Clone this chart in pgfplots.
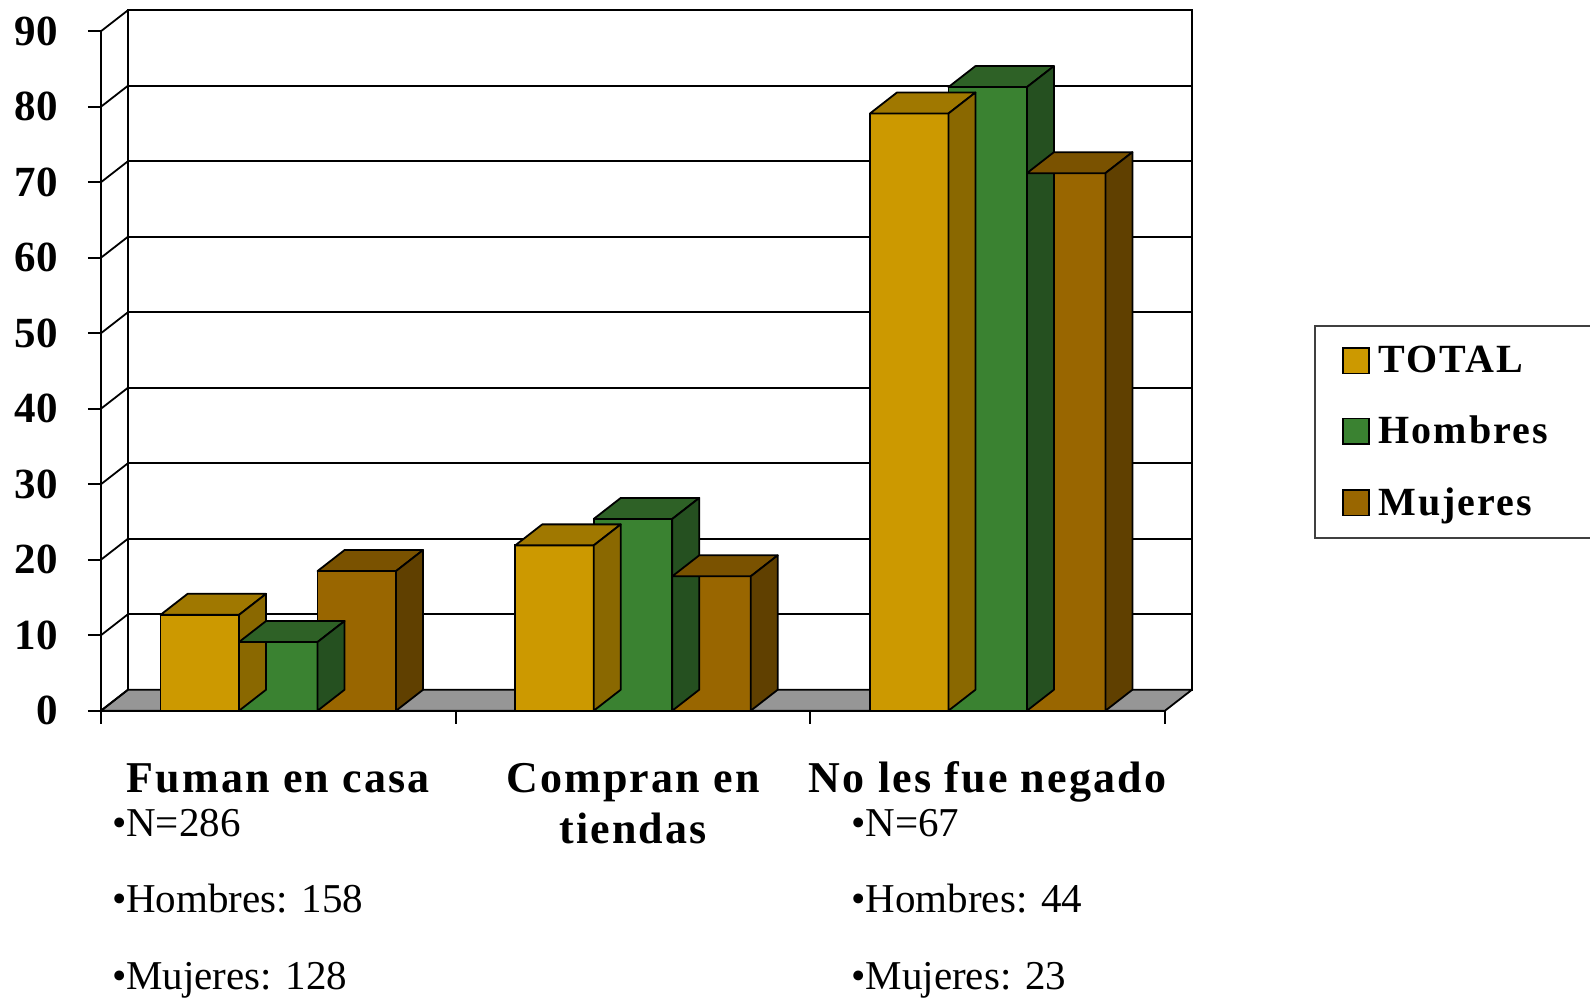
\documentclass[border=0pt]{standalone}
\usepackage{fontspec}
\setmainfont{Liberation Serif}
\newfontfamily\spacedfont[LetterSpace=5]{Liberation Serif}
\usepackage{pgfplots}
\usepackage{pgfplotstable}
\pgfplotsset{compat=1.18}

\definecolor{totF}{RGB}{204,153,0}
\definecolor{totT}{RGB}{160,120,0}
\definecolor{totS}{RGB}{138,104,0}
\definecolor{homF}{RGB}{58,130,49}
\definecolor{homT}{RGB}{46,97,38}
\definecolor{homS}{RGB}{37,80,32}
\definecolor{mujF}{RGB}{153,102,0}
\definecolor{mujT}{RGB}{122,82,0}
\definecolor{mujS}{RGB}{96,64,0}
\definecolor{floorgray}{RGB}{150,150,150}

\pgfplotstableread{
x T H M
0 12.7 9.1 18.5
1 21.9 25.4 17.8
2 79.1 82.6 71.2
}\datatab

\newcommand\bw{39.25pt}
\newcommand\ddx{13.5pt}
\newcommand\ddy{10.5pt}
\newcommand\declarecap[3]{%
\pgfdeclareplotmark{#1}{%
  \pgfmathsetmacro\capHt{\rawy*3.775}%
  \pgfsetlinewidth{0.9pt}\pgfsetstrokecolor{black}\pgfsetroundjoin
  \pgfsetfillcolor{#2}%
  \pgfpathmoveto{\pgfpoint{-0.5*\bw}{0pt}}%
  \pgfpathlineto{\pgfpoint{0.5*\bw}{0pt}}%
  \pgfpathlineto{\pgfpoint{0.5*\bw+\ddx}{\ddy}}%
  \pgfpathlineto{\pgfpoint{-0.5*\bw+\ddx}{\ddy}}%
  \pgfpathclose\pgfusepath{fill,stroke}%
  \pgfsetfillcolor{#3}%
  \pgfpathmoveto{\pgfpoint{0.5*\bw}{0pt}}%
  \pgfpathlineto{\pgfpoint{0.5*\bw+\ddx}{\ddy}}%
  \pgfpathlineto{\pgfpoint{0.5*\bw+\ddx}{\ddy-\capHt pt}}%
  \pgfpathlineto{\pgfpoint{0.5*\bw}{-\capHt pt}}%
  \pgfpathclose\pgfusepath{fill,stroke}%
}}
\declarecap{capT}{totT}{totS}
\declarecap{capH}{homT}{homS}
\declarecap{capM}{mujT}{mujS}

\begin{document}
\begin{tikzpicture}
% back wall
\begin{axis}[
  at={(13.5pt,10.5pt)}, anchor=south west,
  scale only axis, width=532pt, height=339.75pt,
  xmin=-0.5, xmax=2.5, ymin=0, ymax=90,
  xtick=\empty, ytick={0,10,...,90}, yticklabels={},
  major tick length=0pt,
  ymajorgrids, grid style={black, line width=0.9pt},
  axis line style={black, line width=0.9pt},
]
\end{axis}
% floor and side wall
\filldraw[fill=floorgray, draw=black, line width=0.9pt, line join=round]
  (0pt,0pt) -- (532pt,0pt) -- (545.5pt,10.5pt) -- (13.5pt,10.5pt) -- cycle;
\foreach \v in {0,1,...,9} \draw[line width=0.9pt] (0pt,\v*37.75pt) -- ++(13.5pt,10.5pt);
% front
\begin{axis}[
  at={(0pt,0pt)}, anchor=south west,
  scale only axis, width=532pt, height=339.75pt,
  xmin=-0.5, xmax=2.5, ymin=0, ymax=90,
  axis x line=bottom, axis y line=left,
  axis line style={-, line width=0.9pt, black},
  xtick={-0.5,0.5,1.5,2.5}, xticklabels={},
  ytick={0,10,...,90},
  tick align=outside, major tick length=6.5pt,
  tick style={black, line width=0.9pt},
  yticklabel style={font=\bfseries\fontsize{21.5}{24}\selectfont, inner sep=0pt, xshift=-14.8pt},
  /pgf/number format/assume math mode=true,
  clip=false,
  legend style={at={(1.1402,0.5676)}, anchor=north west,
    draw=black!75, line width=0.8pt,
    font=\spacedfont\bfseries\fontsize{20}{24}\selectfont,
    row sep=16.3pt, inner xsep=13.7pt, inner ysep=8pt},
  legend cell align=left,
  legend image code/.code={\draw[#1,draw=black,line width=0.8pt] (0pt,-6.4pt) rectangle (12.8pt,6.4pt);},
]
\addplot[ybar, bar width=\bw, bar shift=-39.25pt, fill=totF, draw=black, line width=0.9pt] table[x=x,y=T]{\datatab};
\addlegendentry{\kern2.5pt TOTAL}
\addplot[only marks, mark=capT, mark options={xshift=-39.25pt}, visualization depends on=rawy\as\rawy, forget plot] table[x=x,y=T]{\datatab};
\addplot[ybar, bar width=\bw, bar shift=0pt, fill=homF, draw=black, line width=0.9pt] table[x=x,y=H]{\datatab};
\addlegendentry{\kern2.5pt Hombres\rule{10pt}{0pt}}
\addplot[only marks, mark=capH, visualization depends on=rawy\as\rawy, forget plot] table[x=x,y=H]{\datatab};
\addplot[ybar, bar width=\bw, bar shift=39.25pt, fill=mujF, draw=black, line width=0.9pt] table[x=x,y=M]{\datatab};
\addlegendentry{\kern2.5pt Mujeres}
\addplot[only marks, mark=capM, mark options={xshift=39.25pt}, visualization depends on=rawy\as\rawy, forget plot] table[x=x,y=M]{\datatab};
\end{axis}
% category labels
\begin{scope}[every node/.style={anchor=base, inner sep=0pt, font=\spacedfont\bfseries\fontsize{22}{26}\selectfont}]
\node at (88.67pt,-40.65pt) {Fuman en casa};
\node at (266pt,-40.65pt) {Compran en};
\node at (266pt,-66.5pt) {tiendas};
\node at (443.33pt,-40.65pt) {No les fue negado};
\end{scope}
\begin{scope}[every node/.style={anchor=base west, inner sep=0pt, font=\fontsize{20.5}{25}\selectfont}]
\node at (5.3pt,-62.65pt) {•N=286};
\node at (5.3pt,-100.8pt) {•Hombres: 158};
\node at (5.3pt,-139.15pt) {•Mujeres: 128};
\node at (375pt,-62.65pt) {•N=67};
\node at (375pt,-100.8pt) {•Hombres: 44};
\node at (375pt,-139.15pt) {•Mujeres: 23};
\end{scope}
\pgfresetboundingbox
\useasboundingbox (-50.5pt,-143.65pt) rectangle (744.5pt,355.35pt);
\end{tikzpicture}
\end{document}
